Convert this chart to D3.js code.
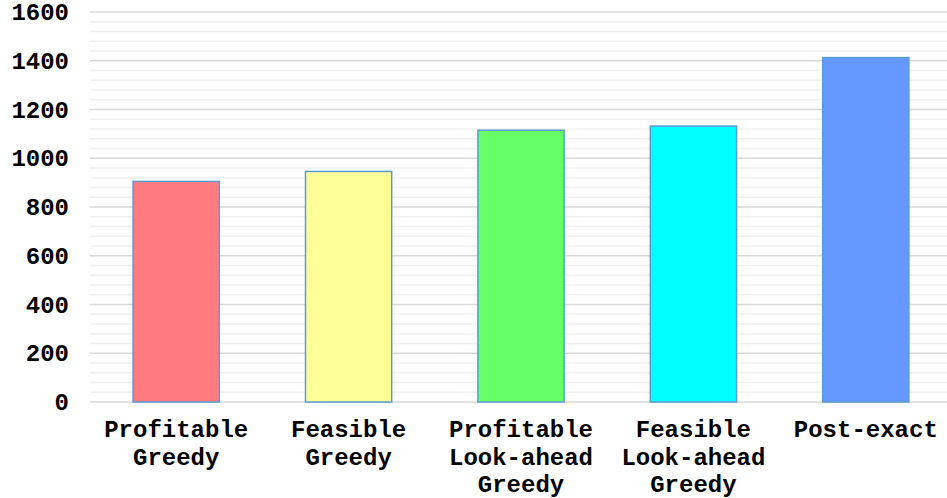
<!DOCTYPE html>
<html>
<head>
<meta charset="utf-8">
<script src="https://cdn.jsdelivr.net/npm/d3@7"></script>
<style>
  body { margin: 0; background: #fff; }
  svg text { font-family: "Liberation Mono", "Courier New", monospace; font-weight: bold; fill: #000; }
</style>
</head>
<body>
<svg id="chart" width="947" height="498"></svg>
<script>
'use strict';

// data
const categories = [
	["Profitable", "Greedy"],
	["Feasible", "Greedy"],
	["Profitable", "Look-ahead", "Greedy"],
	["Feasible", "Look-ahead", "Greedy"],
	["Post-exact"]
];
const values = [905, 946, 1115, 1132, 1413];
const barColors = ["#ff7b80", "#ffff99", "#66ff66", "#00ffff", "#6699ff"];
const yTicks = [0, 200, 400, 600, 800, 1000, 1200, 1400, 1600];

const svg = d3.select("#chart");
const margin = {left: 90, right: -5, top: 12, bottom: 96};
const width = 947, height = 498;

const x = d3.scaleBand()
	.domain(d3.range(values.length))
	.range([margin.left, width - margin.right])
	.paddingInner(0.5)
	.paddingOuter(0.25);

const y = d3.scaleLinear()
	.domain([0, 1600])
	.range([height - margin.bottom, margin.top]);

// minor grid every 40
svg.append("g")
	.selectAll("line")
	.data(d3.range(0, 1601, 40).filter(v => v % 200 != 0))
	.enter().append("line")
	.attr("x1", margin.left).attr("x2", width)
	.attr("y1", d => y(d)).attr("y2", d => y(d))
	.attr("stroke", "#f0f0f0")
	.attr("stroke-width", 1.5);

// major grid
svg.append("g")
	.selectAll("line")
	.data(yTicks)
	.enter().append("line")
	.attr("x1", margin.left).attr("x2", width)
	.attr("y1", d => y(d)).attr("y2", d => y(d))
	.attr("stroke", "#d9d9d9")
	.attr("stroke-width", 1.5);

// y axis labels
const yAxis = svg.append("g")
	.attr("transform", `translate(${margin.left - 21},0)`)
	.call(d3.axisLeft(y).tickValues(yTicks).tickFormat(d3.format("d")).tickSize(0).tickPadding(0));
yAxis.select(".domain").remove();
yAxis.selectAll("text")
	.style("font-family", "'Liberation Mono', 'Courier New', monospace")
	.style("font-weight", "bold")
	.style("font-size", "24px")
	.attr("fill", "#000");

// bars
svg.append("g")
	.selectAll("rect")
	.data(values)
	.enter().append("rect")
	.attr("x", (d, i) => x(i))
	.attr("width", x.bandwidth())
	.attr("y", d => y(d))
	.attr("height", d => y(0) - y(d))
	.attr("fill", (d, i) => barColors[i])
	.attr("stroke", "#5b9bd5")
	.attr("stroke-width", 1.5);

// category labels
const labels = svg.append("g")
	.selectAll("text")
	.data(categories)
	.enter().append("text")
	.attr("text-anchor", "middle")
	.style("font-size", "24px")
	.attr("x", (d, i) => x(i) + x.bandwidth() / 2)
	.attr("y", y(0) + 35);

labels.selectAll("tspan")
	.data(d => d)
	.enter().append("tspan")
	.attr("x", function() { return this.parentNode.getAttribute("x"); })
	.attr("dy", (d, i) => i == 0 ? 0 : 27.5)
	.text(d => d);
</script>
</body>
</html>
